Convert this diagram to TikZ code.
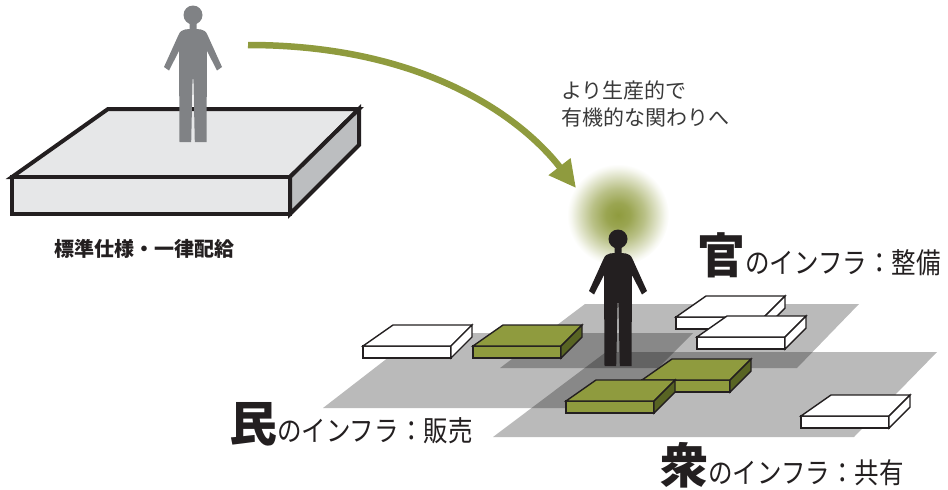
\documentclass[tikz,border=0pt]{standalone}
\usepackage{fontspec}
\setmainfont{Noto Sans CJK JP}
\newfontfamily\jplabel[FakeStretch=0.86]{Noto Sans CJK JP}
\usetikzlibrary{arrows.meta}

\definecolor{inkblack}{HTML}{231F20}
\definecolor{olivefill}{RGB}{143,155,62}
\definecolor{oliveside}{RGB}{88,100,35}
\definecolor{figgray}{HTML}{808285}
\definecolor{slablight}{HTML}{E6E7E8}
\definecolor{slabgray}{HTML}{BCBEC0}
\definecolor{textgray}{HTML}{3A3A3A}

% soft olive halo behind the standing person (path edge sits at 25bp)
\pgfdeclareradialshading{halo}{\pgfpoint{0bp}{0bp}}{%
  color(0bp)=(olivefill); color(6bp)=(olivefill!90!white);
  color(13bp)=(olivefill!62!white); color(19bp)=(olivefill!30!white);
  color(23bp)=(olivefill!8!white); color(25bp)=(white); color(50bp)=(white)}

\newcommand\bigmark[1]{{\normalfont\bfseries\fontsize{48}{48}\selectfont #1}}

\tikzset{
  platform/.style={draw=inkblack, line width=4pt, line join=miter},
  plane/.style={fill=black, fill opacity=0.27},
  slabline/.style={draw=inkblack, line width=1.4pt, line join=miter},
  arrowline/.style={draw=olivefill, line width=6.5pt,
    -{Triangle[length=27pt,width=26pt]}},
  boldlabel/.style={font=\bfseries\fontsize{20}{20}\selectfont, text=inkblack, inner sep=0pt},
  msgtext/.style={font=\fontsize{21}{21}\selectfont, text=textgray, inner sep=0pt},
  infra/.style={font=\jplabel\fontsize{28.5}{28.5}\selectfont, text=inkblack, inner sep=0pt},
  % standing figure, origin at the centre of the head, y pointing down
  person/.pic={
    \fill (0,0) circle (9.5pt);
    \fill (-3.5,6) -- (3.5,6) -- (3.5,14) -- (8,14.5)
      .. controls (11,15) and (13,16.5) .. (14.5,20) -- (29,52) -- (24,55.5)
      -- (14,36) -- (13.5,127) -- (1.8,127) -- (0.4,64) -- (-0.4,64)
      -- (-1.8,127) -- (-13.5,127) -- (-14,36) -- (-24,55.5) -- (-29,52)
      -- (-14.5,20) .. controls (-13,16.5) and (-11,15) .. (-8,14.5)
      -- (-3.5,14) -- cycle;
  },
  % flat slab: origin at the front top-left corner; #1 top/front, #2 side
  pics/slab/.style args={#1/#2}{code={
    \draw[slabline, fill=#1] (0,0) rectangle (88,12);
    \draw[slabline, fill=#1] (0,0) -- (30,-21) -- (109,-21) -- (88,0) -- cycle;
    \draw[slabline, fill=#2] (88,0) -- (109,-21) -- (109,-9) -- (88,12) -- cycle;
  }}
}

\begin{document}
\begin{tikzpicture}[x=1pt,y=-1pt]
\useasboundingbox (0,0) rectangle (948,490);

% halo
\shade[shading=halo] (618,215) circle (51pt);

% raised standard platform
\draw[platform, fill=slablight] (108,109) -- (359,109) -- (290,177) -- (12,177) -- cycle;
\draw[platform, fill=slablight] (12,177) rectangle (290,214);
\draw[platform, fill=slabgray] (290,177) -- (359,109) -- (359,145) -- (290,214) -- cycle;
\pic[color=figgray] at (193,15) {person};
\node[boldlabel, anchor=base] (platformlabel) at (144.5,256) {標準仕様・一律配給};

% curved arrow
\coordinate (arrowstart) at (248,45);
\coordinate (arrowend) at (576,188);
\draw[arrowline] (arrowstart) .. controls (430,45) and (525,122) .. (arrowend);

\node[msgtext, anchor=base west] (msgA) at (561,98) {より生産的で};
\node[msgtext, anchor=base west] (msgB) at (561,125) {有機的な関わりへ};

% three overlapping infrastructure planes
\fill[plane] (420,333) -- (693,333) -- (618,408) -- (323,408) -- cycle;
\fill[plane] (585,304) -- (859,304) -- (797,368) -- (500,368) -- cycle;
\fill[plane] (606,352) -- (937,352) -- (854,437) -- (493,437) -- cycle;

% slabs
\pic at (363,346) {slab={white/white}};
\pic at (473,346) {slab={olivefill/oliveside}};
\pic at (676,317) {slab={white/white}};
\pic at (697,337) {slab={white/white}};
\pic at (642,380) {slab={olivefill/oliveside}};
\pic at (566,401) {slab={olivefill/oliveside}};
\pic at (801,416) {slab={white/white}};

% person in the network
\pic[color=inkblack] at (618,239) {person};

% labels
\node[infra, anchor=base west] (minlabel) at (229,441.5) {\bigmark{民}のインフラ：販売};
\node[infra, anchor=base west] (kanlabel) at (697,273) {\bigmark{官}のインフラ：整備};
\node[infra, anchor=base west] (shulabel) at (660,483) {\bigmark{衆}のインフラ：共有};
\end{tikzpicture}
\end{document}
